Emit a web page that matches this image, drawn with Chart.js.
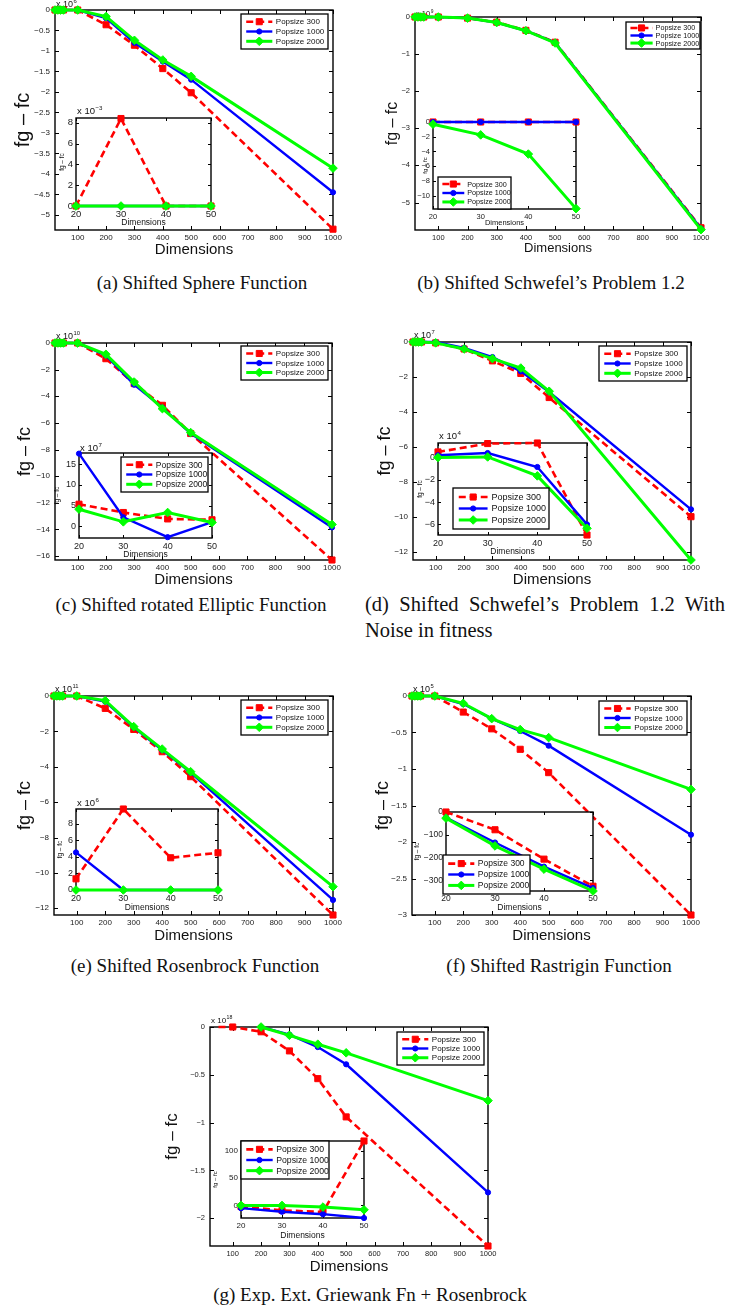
<!DOCTYPE html>
<html>
<head>
<meta charset="utf-8">
<script src="https://cdn.jsdelivr.net/npm/chart.js@4.4.0/dist/chart.umd.min.js"></script>
<style>
body { margin: 0; background: #fff; }
#page { position: relative; width: 741px; height: 1309px; overflow: hidden; background: #fff; }
canvas { position: absolute; }
.cap { position: absolute; font-family: "Liberation Serif", "Times New Roman", serif; font-size: 19px; line-height: 22px; color: #111; white-space: nowrap; }
.mid { transform: translateX(-50%); }
</style>
</head>
<body>
<div id="page">
  <div class="cap mid" style="left:202px;top:272px">(a) Shifted Sphere Function</div>
  <div class="cap mid" style="left:551px;top:272px">(b) Shifted Schwefel’s Problem 1.2</div>
  <div class="cap mid" style="left:191px;top:594px">(c) Shifted rotated Elliptic Function</div>
  <div class="cap" style="left:365px;top:593px;width:360px;font-size:20.5px;text-align:justify;text-align-last:justify">(d) Shifted Schwefel’s Problem 1.2 With</div>
  <div class="cap" style="left:365px;top:619px;font-size:20.5px">Noise in fitness</div>
  <div class="cap mid" style="left:195px;top:955px">(e) Shifted Rosenbrock Function</div>
  <div class="cap mid" style="left:559px;top:955px">(f) Shifted Rastrigin Function</div>
  <div class="cap mid" style="left:370px;top:1284px">(g) Exp. Ext. Griewank Fn + Rosenbrock</div>
</div>
<script>
const legendLabels = ['Popsize 300', 'Popsize 1000', 'Popsize 2000'];
const dimsMain = [20, 30, 40, 50, 100, 200, 300, 400, 500, 1000];
const dimsInset = [20, 30, 40, 50];
const xTicksMain = [100, 200, 300, 400, 500, 600, 700, 800, 900, 1000];
const xTicksInset = [20, 30, 40, 50];

// (a) Shifted Sphere Function
const a300 = [0, 0, 0, 0, 0, -0.36, -0.86, -1.43, -2.02, -5.35];
const a1000 = [0, 0, 0, 0, 0, -0.2, -0.8, -1.26, -1.7, -4.45];
const a2000 = [0, 0, 0, 0, 0, -0.16, -0.74, -1.22, -1.62, -3.86];
const aYTicks = [0, -0.5, -1, -1.5, -2, -2.5, -3, -3.5, -4, -4.5, -5];
const aIn300 = [0, 8.4, 0, 0];
const aIn1000 = [0, 0, 0, 0];
const aIn2000 = [0, 0, 0, 0];
const aInYTicks = [0, 2, 4, 6, 8];

// (b) Shifted Schwefel's Problem 1.2
const b300 = [0, 0, 0, 0, 0, -0.03, -0.14, -0.36, -0.68, -5.68];
const b1000 = [0, 0, 0, 0, 0, -0.03, -0.15, -0.37, -0.69, -5.7];
const b2000 = [0, 0, 0, 0, 0, -0.03, -0.15, -0.37, -0.7, -5.73];
const bYTicks = [0, -1, -2, -3, -4, -5];
const bIn300 = [0, 0, 0, 0];
const bIn1000 = [0, 0, 0, 0];
const bIn2000 = [-0.3, -1.75, -4.35, -11.75];
const bInYTicks = [0, -2, -4, -6, -8, -10];

// (c) Shifted rotated Elliptic Function
const c300 = [0, 0, 0, 0, 0, -1.18, -3.05, -4.68, -6.8, -16.3];
const c1000 = [0, 0, 0, 0, 0, -0.93, -3.13, -4.85, -6.8, -13.85];
const c2000 = [0, 0, 0, 0, 0, -0.85, -2.93, -4.93, -6.73, -13.63];
const cYTicks = [0, -2, -4, -6, -8, -10, -12, -14, -16];
const cIn300 = [5.35, 3.35, 1.8, 1.6];
const cIn1000 = [17.55, 2.2, -2.6, 1.05];
const cIn2000 = [4.15, 1.1, 3.35, 0.95];
const cInYTicks = [0, 5, 10, 15];

// (d) Shifted Schwefel's Problem 1.2 With Noise in fitness
const d300 = [0, 0, 0, 0, -0.05, -0.4, -1.08, -1.8, -3.18, -10.0];
const d1000 = [0, 0, 0, 0, 0, -0.34, -0.86, -1.68, -2.86, -9.58];
const d2000 = [0, 0, 0, 0, -0.05, -0.4, -0.95, -1.49, -2.82, -12.48];
const dYTicks = [0, -2, -4, -6, -8, -10, -12];
const dIn300 = [0.5, 1.25, 1.3, -6.95];
const dIn1000 = [0.2, 0.4, -0.85, -6.0];
const dIn2000 = [0, 0.05, -1.65, -6.35];
const dInYTicks = [0, -2, -4, -6];

// (e) Shifted Rosenbrock Function
const e300 = [0, 0, 0, 0, 0, -0.7, -1.89, -3.15, -4.56, -12.38];
const e1000 = [0, 0, 0, 0, 0, -0.32, -1.77, -3.05, -4.33, -11.53];
const e2000 = [0, 0, 0, 0, 0, -0.26, -1.73, -3.0, -4.28, -10.78];
const eYTicks = [0, -2, -4, -6, -8, -10, -12];
const eIn300 = [1.35, 9.8, 3.9, 4.5];
const eIn1000 = [4.55, 0, 0, 0];
const eIn2000 = [0, 0, 0, 0];
const eInYTicks = [0, 2, 4, 6, 8];

// (f) Shifted Rastrigin Function
const f300 = [0, 0, 0, 0, 0, -0.22, -0.45, -0.73, -1.05, -3.0];
const f1000 = [0, 0, 0, 0, 0, -0.11, -0.31, -0.48, -0.68, -1.9];
const f2000 = [0, 0, 0, 0, 0, -0.1, -0.31, -0.46, -0.57, -1.28];
const fYTicks = [0, -0.5, -1, -1.5, -2, -2.5, -3];
const fIn300 = [0, -78, -207, -326];
const fIn1000 = [-24, -134, -240, -334];
const fIn2000 = [-27, -149, -251, -347];
const fInYTicks = [0, -100, -200, -300];

// (g) Exp. Ext. Griewank Fn + Rosenbrock
const gDims300 = [50, 100, 200, 300, 400, 500, 1000];
const gDims = [200, 300, 400, 500, 1000];
const g300 = [0, 0, -0.05, -0.25, -0.54, -0.94, -2.29];
const g1000 = [0, -0.08, -0.21, -0.39, -1.73];
const g2000 = [0, -0.087, -0.18, -0.27, -0.77];
const gYTicks = [0, -0.5, -1, -1.5, -2];
const gIn300 = [-2, -9, -12, 118];
const gIn1000 = [-5, -11.5, -16, -23];
const gIn2000 = [0, 0, -3, -8];
const gInYTicks = [0, 50, 100];

const SANS = '"Liberation Sans", Arial, Helvetica, sans-serif';
const page = document.getElementById('page');

const styles = [
  { color: '#ff0000', dash: [7, 4], width: 2.6, marker: 'rect', r: 4.3 },
  { color: '#0000ff', dash: [], width: 2.4, marker: 'circle', r: 2.6 },
  { color: '#00ff00', dash: [], width: 3, marker: 'rectRot', r: 4.3 }
];

function minusFmt(v) {
  return v < 0 ? '\u2212' + Math.abs(v) : String(v);
}

function drawMarker(ctx, kind, r, x, y) {
  ctx.beginPath();
  if (kind === 'circle') {
    ctx.arc(x, y, r, 0, Math.PI * 2);
  } else if (kind === 'rect') {
    const s = r * Math.SQRT1_2;
    ctx.rect(x - s, y - s, 2 * s, 2 * s);
  } else {
    ctx.moveTo(x, y - r); ctx.lineTo(x + r, y); ctx.lineTo(x, y + r); ctx.lineTo(x - r, y);
    ctx.closePath();
  }
  ctx.fill();
  ctx.stroke();
}

// white plot area, box and inward ticks like matlab
const axisBox = {
  id: 'axisBox',
  beforeDraw(chart) {
    const { ctx, chartArea: a } = chart;
    ctx.save();
    ctx.fillStyle = '#fff';
    ctx.fillRect(a.left, a.top, a.right - a.left, a.bottom - a.top);
    ctx.restore();
  },
  beforeDatasetsDraw(chart, args, o) {
    const { ctx, chartArea: a, scales: { x, y } } = chart;
    ctx.save();
    ctx.strokeStyle = '#000';
    ctx.lineWidth = 1;
    ctx.beginPath();
    x.ticks.forEach(t => {
      const px = Math.round(x.getPixelForValue(t.value)) + 0.5;
      ctx.moveTo(px, a.bottom); ctx.lineTo(px, a.bottom - o.len);
      ctx.moveTo(px, a.top); ctx.lineTo(px, a.top + o.len);
    });
    y.ticks.forEach(t => {
      const py = Math.round(y.getPixelForValue(t.value)) + 0.5;
      ctx.moveTo(a.left, py); ctx.lineTo(a.left + o.len, py);
      ctx.moveTo(a.right, py); ctx.lineTo(a.right - o.len, py);
    });
    ctx.stroke();
    ctx.lineWidth = 1.4;
    ctx.strokeRect(a.left, a.top, a.right - a.left, a.bottom - a.top);
    // exponent label (drawn under the markers)
    if (o.exp) {
      ctx.fillStyle = '#111';
      ctx.textBaseline = 'alphabetic';
      ctx.textAlign = 'left';
      ctx.font = o.expSize + 'px ' + SANS;
      const ex = a.left + 1, ey = a.top - o.expDy;
      ctx.fillText('x 10', ex, ey);
      const w = ctx.measureText('x 10').width;
      ctx.font = (o.expSize * 0.65) + 'px ' + SANS;
      ctx.fillText(o.exp, ex + w + 0.5, ey - o.expSize * 0.45);
    }
    ctx.restore();
  }
};

const boxLegend = {
  id: 'boxLegend',
  afterDatasetsDraw(chart, args, o) {
    if (!o || !o.rect) return;
    const { ctx, chartArea: a } = chart;
    const [lx, ly, lw, lh, fs] = o.rect;
    const x = a.left + lx, y = a.top + ly;
    ctx.save();
    ctx.fillStyle = '#fff';
    ctx.fillRect(x, y, lw, lh);
    ctx.strokeStyle = '#000';
    ctx.lineWidth = 1.3;
    ctx.strokeRect(x, y, lw, lh);
    const pad = lh * 0.08, rowH = (lh - 2 * pad) / 3;
    ctx.font = fs + 'px ' + SANS;
    ctx.textBaseline = 'middle';
    ctx.textAlign = 'left';
    legendLabels.forEach((lab, i) => {
      const st = styles[i];
      const cy = y + pad + rowH * (i + 0.5);
      const x0 = x + lw * 0.06, x1 = x + lw * 0.36;
      ctx.strokeStyle = st.color;
      ctx.lineWidth = st.width;
      ctx.setLineDash(st.dash);
      ctx.beginPath(); ctx.moveTo(x0, cy); ctx.lineTo(x1, cy); ctx.stroke();
      ctx.setLineDash([]);
      ctx.lineWidth = 1;
      ctx.fillStyle = st.color;
      drawMarker(ctx, st.marker, st.r, (x0 + x1) / 2, cy);
      ctx.fillStyle = '#111';
      ctx.fillText(lab, x1 + lw * 0.04, cy + 0.5);
    });
    ctx.restore();
  }
};

function buildSets(xsList, ysList, markerFrom) {
  return ysList.map((ys, i) => {
    const st = styles[i];
    return {
      label: legendLabels[i],
      data: ys.map((v, k) => ({ x: xsList[i][k], y: v })),
      borderColor: st.color,
      backgroundColor: st.color,
      borderWidth: st.width,
      borderDash: st.dash,
      pointStyle: st.marker,
      pointRadius: markerFrom ? (c => (c.raw && c.raw.x < markerFrom ? 0 : st.r)) : st.r,
      pointBackgroundColor: st.color,
      pointBorderColor: st.color,
      pointBorderWidth: 1,
      tension: 0,
      fill: false,
      clip: false,
      order: 2 - i
    };
  });
}

function drawPlot(p, inset) {
  const [bl, bt, bw, bh] = p.box;
  const YW = inset ? 36 : 55, PT = inset ? 12 : 14, PR = inset ? 10 : 12, XH = inset ? 24 : 34;
  const cv = document.createElement('canvas');
  cv.width = YW + bw + PR;
  cv.height = PT + bh + XH;
  cv.style.left = (bl - YW) + 'px';
  cv.style.top = (bt - PT) + 'px';
  page.appendChild(cv);
  const [xtFont, xtOff] = p.xTitle;
  const [ytFont, ytOff] = p.yTitle;
  const xTicks = inset ? xTicksInset : xTicksMain;
  new Chart(cv, {
    type: 'line',
    data: { datasets: buildSets(p.xs, p.series, p.markerFrom) },
    plugins: [axisBox, boxLegend],
    options: {
      responsive: false,
      animation: false,
      events: [],
      layout: { padding: { left: 0, top: PT, right: PR, bottom: 0 } },
      plugins: {
        legend: { display: false },
        tooltip: { enabled: false },
        axisBox: { len: inset ? 3 : 4, exp: p.exp, expSize: p.expSize, expDy: p.expDy },
        boxLegend: { rect: p.legend }
      },
      scales: {
        x: {
          type: 'linear',
          min: 20,
          max: inset ? 50 : 1000,
          afterBuildTicks: s => { s.ticks = xTicks.map(v => ({ value: v })); },
          afterFit: s => { s.height = XH; },
          grid: { display: false, drawTicks: false },
          border: { display: false },
          ticks: { font: { family: SANS, size: p.tickFont }, color: '#222', padding: 3, maxRotation: 0, autoSkip: false, callback: v => String(v) },
          title: { display: true, text: 'Dimensions', color: '#111', font: { family: SANS, size: xtFont }, padding: { top: 0, bottom: XH - xtOff - xtFont * 0.6 } }
        },
        y: {
          type: 'linear',
          min: p.y[0],
          max: p.y[1],
          afterBuildTicks: s => { s.ticks = p.yTicks.map(v => ({ value: v })); },
          afterFit: s => { s.width = YW; },
          grid: { display: false, drawTicks: false },
          border: { display: false },
          ticks: { font: { family: SANS, size: p.tickFont }, color: '#222', padding: inset ? 3 : 5, autoSkip: false, callback: minusFmt },
          title: { display: true, text: 'fg \u2013 fc', color: '#111', font: { family: SANS, size: ytFont }, padding: { top: YW - ytOff - ytFont * 0.6, bottom: 0 } }
        }
      }
    }
  });
}

const M = [dimsMain, dimsMain, dimsMain];
const I = [dimsInset, dimsInset, dimsInset];

const panels = [
  { main: { box: [55, 10, 278, 220], xs: M, series: [a300, a1000, a2000], y: [-5.37, 0], yTicks: aYTicks, exp: '6', expSize: 9, expDy: 3,
            tickFont: 8, xTitle: [15, 20], yTitle: [20, 32], legend: [186, 4, 87, 35, 8] },
    inset: { box: [76, 118, 135, 88], xs: I, series: [aIn300, aIn1000, aIn2000], y: [0, 8.45], yTicks: aInYTicks, exp: '\u22123', expSize: 9.5, expDy: 4,
            tickFont: 9.5, xTitle: [8.5, 17], yTitle: [6.5, 14], legend: null } },
  { main: { box: [415, 17, 286, 213], xs: M, series: [b300, b1000, b2000], y: [-5.74, 0], yTicks: bYTicks, exp: '9', expSize: 7.5, expDy: 1,
            tickFont: 7.5, xTitle: [13, 18], yTitle: [16, 22], legend: [211, 5, 74, 27, 7.2] },
    inset: { box: [433, 122, 143, 87], xs: I, series: [bIn300, bIn1000, bIn2000], y: [-11.8, 0], yTicks: bInYTicks, exp: null,
            tickFont: 7.5, xTitle: [7.5, 14], yTitle: [6, 8], legend: [5, 55, 73, 32, 7.2] } },
  { main: { box: [55, 343, 277, 217], xs: M, series: [c300, c1000, c2000], y: [-16.3, 0], yTicks: cYTicks, exp: '10', expSize: 9, expDy: 4,
            tickFont: 8, xTitle: [15, 20], yTitle: [18, 30], legend: [186, 3, 87, 34, 8] },
    inset: { box: [79, 453, 133, 85], xs: I, series: [cIn300, cIn1000, cIn2000], y: [-2.8, 17.7], yTicks: cInYTicks, exp: '7', expSize: 9.5, expDy: 2,
            tickFont: 9, xTitle: [8.5, 17], yTitle: [6.5, 22], legend: [42, 4, 87, 35, 8.5] } },
  { main: { box: [413, 342, 278, 218], xs: M, series: [d300, d1000, d2000], y: [-12.48, 0], yTicks: dYTicks, exp: '7', expSize: 9, expDy: 4,
            tickFont: 8, xTitle: [15, 20], yTitle: [18, 28], legend: [186, 4, 88, 35, 8] },
    inset: { box: [438, 443, 149, 92], xs: I, series: [dIn300, dIn1000, dIn2000], y: [-6.95, 1.3], yTicks: dInYTicks, exp: '4', expSize: 9.5, expDy: 4,
            tickFont: 9, xTitle: [8.5, 17], yTitle: [6.5, 18], legend: [15, 45, 96, 41, 9] } },
  { main: { box: [54, 696, 279, 219], xs: M, series: [e300, e1000, e2000], y: [-12.38, 0], yTicks: eYTicks, exp: '11', expSize: 9, expDy: 4,
            tickFont: 8, xTitle: [15, 21], yTitle: [18, 29], legend: [187, 4, 87, 35, 8] },
    inset: { box: [76, 809, 142, 81], xs: I, series: [eIn300, eIn1000, eIn2000], y: [0, 9.8], yTicks: eInYTicks, exp: '6', expSize: 9.5, expDy: 3,
            tickFont: 9, xTitle: [8.5, 18], yTitle: [6.5, 16], legend: null } },
  { main: { box: [412, 696, 279, 219], xs: M, series: [f300, f1000, f2000], y: [-3, 0], yTicks: fYTicks, exp: '5', expSize: 9, expDy: 4,
            tickFont: 8, xTitle: [15, 21], yTitle: [18, 29], legend: [187, 5, 88, 34, 8] },
    inset: { box: [446, 812, 147, 79], xs: I, series: [fIn300, fIn1000, fIn2000], y: [-347, 0], yTicks: fInYTicks, exp: null,
            tickFont: 8.5, xTitle: [8.5, 17], yTitle: [6.5, 29], legend: [-3, 43, 87, 39, 8.5] } },
  { main: { box: [210, 1027, 278, 219], xs: [gDims300, gDims, gDims], series: [g300, g1000, g2000], y: [-2.29, 0], yTicks: gYTicks, exp: '18', expSize: 8, expDy: 4,
            tickFont: 7.5, xTitle: [15, 21], yTitle: [17, 38], legend: [187, 5, 87, 33, 8], markerFrom: 100 },
    inset: { box: [241, 1141, 123, 77], xs: I, series: [gIn300, gIn1000, gIn2000], y: [-23, 118], yTicks: gInYTicks, exp: null,
            tickFont: 8, xTitle: [8.5, 18], yTitle: [6, 26], legend: [0, 0, 88, 38, 8.7] } }
];

panels.forEach(p => drawPlot(p.main, false));
panels.forEach(p => drawPlot(p.inset, true));
</script>
</body>
</html>
